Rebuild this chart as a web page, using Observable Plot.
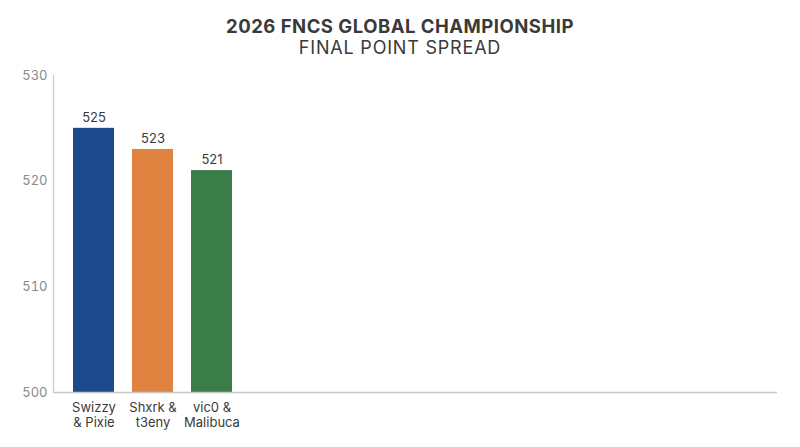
<!DOCTYPE html>
<html>
<head>
<meta charset="utf-8">
<script src="https://cdn.jsdelivr.net/npm/d3@7"></script>
<script src="https://cdn.jsdelivr.net/npm/@observablehq/plot@0.6"></script>
<style>
  html, body { margin: 0; padding: 0; background: #fff; }
  body { width: 800px; height: 447px; overflow: hidden; font-family: Inter, "Open Sans", sans-serif; }
  #title { text-align: center; font-weight: 700; font-size: 18.5px; color: #3a3a3a; margin-top: 16px; line-height: 21px; letter-spacing: 0.5px; }
  #subtitle { text-align: center; font-weight: 400; font-size: 18px; color: #3a3a3a; line-height: 21px; letter-spacing: 0.8px; }
  #chart { margin-top: -2px; }
</style>
</head>
<body>
<div id="title">2026 FNCS GLOBAL CHAMPIONSHIP</div>
<div id="subtitle">FINAL POINT SPREAD</div>
<div id="chart"></div>
<script>
const teams = ["Swizzy\n& Pixie", "Shxrk &\nt3eny", "vic0 &\nMalibuca"];
const points = [525, 523, 521];
const colors = ["#1d4a8c", "#e0823f", "#3b7d49"];
const yTicks = [500, 510, 520, 530];

const data = teams.map((t, i) => ({team: t, points: points[i], color: colors[i]}));

const chart = Plot.plot({
  width: 800,
  height: 391,
  marginTop: 19,
  marginLeft: 53,
  marginRight: 23,
  marginBottom: 55,
  style: {fontFamily: "Inter, 'Open Sans', sans-serif", fontSize: "12px", background: "#fff"},
  x: {domain: teams, range: [54, 252], paddingInner: 0.3, paddingOuter: 0.3, label: null},
  y: {domain: [500, 530], ticks: yTicks, label: null},
  marks: [
    Plot.axisY({ticks: yTicks, tickSize: 0, tickPadding: 6, label: null, color: "#8a8a8a", fontSize: 13}),
    Plot.axisX({tickSize: 0, tickPadding: 8, label: null, color: "#3a3a3a", fontSize: 13, lineHeight: 1.2}),
    Plot.barY(data, {x: "team", y1: 500, y2: "points", fill: "color"}),
    Plot.text(data, {x: "team", y: "points", text: d => String(d.points), dy: -11, fill: "#3a3a3a", fontSize: 13}),
    Plot.frame({anchor: "left", stroke: "#c8c8c8", strokeWidth: 1.2, strokeOpacity: 1}),
    Plot.ruleY([500], {stroke: "#c8c8c8", strokeWidth: 1.5})
  ]
});
document.getElementById("chart").appendChild(chart);
</script>
</body>
</html>
